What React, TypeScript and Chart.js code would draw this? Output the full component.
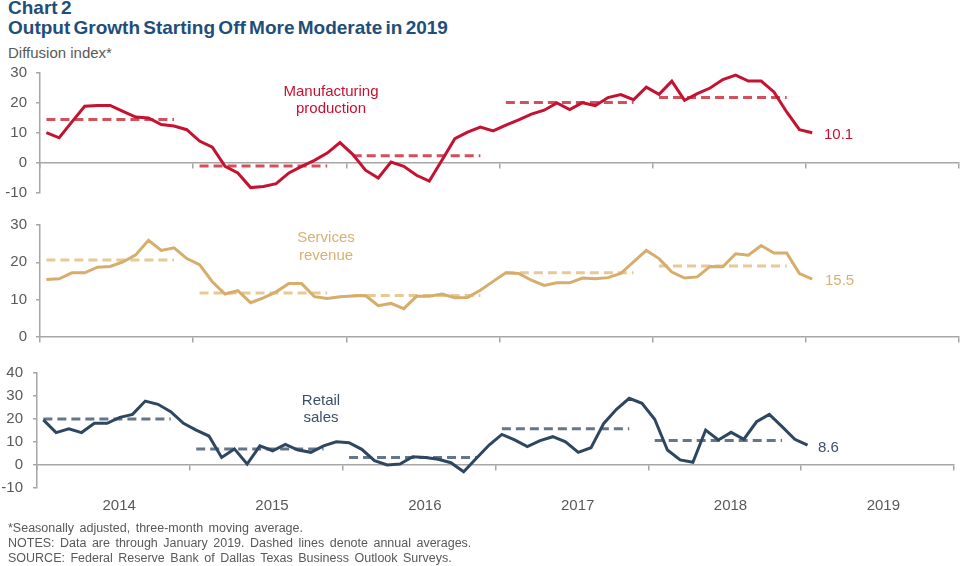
import React, { useEffect, useRef } from "react";
import { Chart, registerables } from "chart.js";

Chart.register(...registerables);

// ---- Data (monthly, Jan 2014 – Jan 2019) ----
const years = ["2014", "2015", "2016", "2017", "2018", "2019"];

const manufacturing = [
  10.1, 8.4, 13.7, 18.9, 19.2, 19.2, 17.2, 15.3, 15.0, 12.8, 12.3, 11.1,
  7.3, 5.3, -1.1, -3.3, -8.2, -7.8, -6.9, -3.3, -1.1, 0.9, 3.3, 6.8,
  2.9, -2.4, -5.0, 0.3, -1.1, -4.1, -6.0, 1.0, 8.1, 10.3, 12.0, 10.7,
  12.6, 14.4, 16.3, 17.6, 20.0, 17.8, 20.1, 19.1, 21.8, 22.8, 21.1, 25.3,
  22.9, 27.3, 20.9, 23.1, 25.0, 27.8, 29.3, 27.3, 27.3, 23.7, 17.0, 11.1,
  10.1,
];
const manufacturingAvg = [14.5, -1.0, 2.4, 20.2, 21.8];

const services = [
  15.4, 15.6, 17.2, 17.2, 18.7, 18.9, 20.1, 22.0, 25.9, 23.2, 23.9, 21.0,
  19.4, 14.8, 11.5, 12.4, 9.2, 10.5, 12.1, 14.3, 14.3, 10.8, 10.3, 10.8,
  11.0, 11.1, 8.4, 9.0, 7.6, 10.9, 10.9, 11.5, 10.5, 10.6, 12.5, 14.9,
  17.2, 17.0, 15.2, 13.8, 14.5, 14.5, 15.8, 15.6, 15.9, 17.0, 20.1, 23.2,
  21.0, 17.4, 15.8, 16.1, 18.9, 18.8, 22.3, 21.9, 24.5, 22.5, 22.5, 17.0,
  15.5,
];
const servicesAvg = [20.6, 11.8, 11.1, 17.2, 19.0];

const retail = [
  19.6, 14.1, 15.7, 14.1, 18.1, 18.1, 20.7, 22.0, 27.8, 26.4, 23.2, 18.1,
  15.2, 12.6, 3.3, 7.0, 0.4, 8.3, 6.2, 9.0, 6.5, 5.5, 8.3, 10.1,
  9.7, 6.8, 1.9, 0.0, 0.4, 3.6, 3.3, 2.5, 1.0, -2.9, 2.9, 8.7,
  13.3, 10.9, 8.0, 10.6, 12.3, 10.1, 5.5, 7.5, 18.1, 24.2, 29.0, 26.8,
  19.9, 6.5, 2.2, 1.2, 15.2, 10.9, 14.2, 11.2, 18.8, 22.0, 16.7, 11.2,
  8.6,
];
const retailAvg = [20.0, 7.0, 3.3, 15.8, 10.7];

const FONT = "'Liberation Sans', Arial, sans-serif";
const AXIS = "#a6a6a6";
const TEXT = "#595959";

type Area = { top: number; bottom: number; left: number; right: number };

type PanelProps = {
  top: number;
  height: number;
  values: number[];
  averages: number[];
  min: number;
  max: number;
  color: string;
  dashColor: string;
  yWidth: number;
  area: Area; // desired plot area in canvas coordinates
  showYears?: boolean;
  yPad: number;
};

function Panel(p: PanelProps) {
  const ref = useRef<HTMLCanvasElement | null>(null);
  useEffect(() => {
    if (!ref.current) return;
    const solid = p.values.map((v, i) => ({ x: i + 0.5, y: v }));
    const avgSets = p.averages.map((a, k) => ({
      data: [
        { x: k * 12 + 0.5, y: a },
        { x: k * 12 + 10.5, y: a },
      ],
      xAxisID: "x",
      yAxisID: "y",
      borderColor: p.dashColor,
      borderWidth: 3,
      borderDash: [9, 5],
      pointRadius: 0,
      tension: 0,
      order: 2,
    }));
    const boundaries = years.map((_, k) => k * 12).concat([72]);
    const scales: any = {
      x: {
        type: "linear",
        min: 0,
        max: 72,
        position: { y: 0 },
        afterBuildTicks: (s: any) => {
          s.ticks = boundaries.map((v) => ({ value: v }));
        },
        afterFit: (s: any) => {
          s.paddingLeft = 0;
          s.paddingRight = 0;
          s.paddingTop = 0;
          s.paddingBottom = 0;
        },
        ticks: { display: false },
        grid: { drawOnChartArea: false, drawTicks: true, tickLength: 5, color: AXIS, lineWidth: 1.5 },
        border: { color: AXIS, width: 1.5 },
      },
      y: {
        type: "linear",
        position: "left",
        min: p.min,
        max: p.max,
        afterFit: (s: any) => {
          s.width = p.yWidth;
          s.paddingTop = 0;
          s.paddingBottom = 0;
          s.paddingLeft = 0;
          s.paddingRight = 0;
        },
        ticks: { stepSize: 10, color: TEXT, font: { family: FONT, size: 15 }, padding: p.yPad },
        grid: { drawOnChartArea: false, drawTicks: true, tickLength: 4, color: AXIS, lineWidth: 1.5 },
        border: { color: AXIS, width: 1.5 },
      },
    };
    if (p.showYears) {
      scales.xl = {
        type: "linear",
        min: 0,
        max: 72,
        position: "bottom",
        afterBuildTicks: (s: any) => {
          s.ticks = years.map((_, k) => ({ value: k * 12 + 6.45 }));
        },
        afterFit: (s: any) => {
          s.height = 32;
          s.paddingLeft = 0;
          s.paddingRight = 0;
          s.paddingTop = 0;
          s.paddingBottom = 0;
        },
        ticks: {
          color: TEXT,
          font: { family: FONT, size: 15 },
          padding: 9,
          autoSkip: false,
          maxRotation: 0,
          callback: (_v: any, idx: number) => years[idx],
        },
        grid: { display: false, drawTicks: false },
        border: { display: false },
      };
    }
    const pad = { top: p.area.top, bottom: p.height - p.area.bottom - (p.showYears ? 32 : 0), left: 0, right: 960 - p.area.right };
    const opts: any = {
      animation: false,
      responsive: false,
      maintainAspectRatio: false,
      events: [],
      layout: { padding: { ...pad }, autoPadding: false },
      plugins: { legend: { display: false }, tooltip: { enabled: false }, title: { display: false } },
      scales,
    };
    const chart = new Chart(ref.current, {
      type: "line",
      data: {
        datasets: [
          {
            data: solid,
            xAxisID: "x",
            yAxisID: "y",
            borderColor: p.color,
            borderWidth: 3,
            pointRadius: 0,
            tension: 0,
            order: 1,
          } as any,
          ...(avgSets as any[]),
        ],
      },
      options: opts,
    });
    return () => chart.destroy();
  }, []);
  return (
    <canvas
      ref={ref}
      width={960}
      height={p.height}
      style={{ position: "absolute", left: 0, top: p.top, width: 960, height: p.height }}
    />
  );
}

const abs = (o: React.CSSProperties): React.CSSProperties => ({ position: "absolute", ...o });

export default function App() {
  return (
    <div style={abs({ left: 0, top: 0, width: 960, height: 566, background: "#ffffff", overflow: "hidden", fontFamily: FONT })}>
      <div style={abs({ left: 8, top: -2, fontSize: 19, lineHeight: "20px", fontWeight: 700, color: "#1f4e7a", wordSpacing: -2, whiteSpace: "nowrap" })}>
        <div>Chart 2</div>
        <div>Output Growth Starting Off More Moderate in 2019</div>
      </div>
      <div style={abs({ left: 8, top: 44, fontSize: 15, lineHeight: "18px", color: TEXT })}>Diffusion index*</div>

      <Panel
        top={60}
        height={145}
        values={manufacturing}
        averages={manufacturingAvg}
        min={-10}
        max={30}
        color="#c41230"
        dashColor="#d2505c"
        yWidth={40}
        yPad={9}
        area={{ top: 13, bottom: 133, left: 40, right: 959 }}
      />
      <Panel
        top={212}
        height={135}
        values={services}
        averages={servicesAvg}
        min={0}
        max={30}
        color="#d6ad6a"
        dashColor="#e6c995"
        yWidth={40}
        yPad={9}
        area={{ top: 13, bottom: 125, left: 40, right: 959 }}
      />
      <Panel
        top={360}
        height={165}
        values={retail}
        averages={retailAvg}
        min={-10}
        max={40}
        color="#2e4760"
        dashColor="#64778a"
        yWidth={37}
        yPad={10}
        showYears
        area={{ top: 13, bottom: 128, left: 37, right: 954 }}
      />

      <div style={abs({ left: 231, top: 83, width: 200, textAlign: "center", fontSize: 15, lineHeight: "16.5px", color: "#c8102e" })}>
        Manufacturing
        <br />
        production
      </div>
      <div style={abs({ left: 226, top: 228, width: 200, textAlign: "center", fontSize: 15, lineHeight: "17.5px", color: "#d8b172" })}>
        Services
        <br />
        revenue
      </div>
      <div style={abs({ left: 221, top: 392, width: 200, textAlign: "center", fontSize: 15, lineHeight: "16.7px", color: "#3b5068" })}>
        Retail
        <br />
        sales
      </div>

      <div style={abs({ left: 824, top: 125, fontSize: 15, lineHeight: "18px", color: "#c8102e" })}>10.1</div>
      <div style={abs({ left: 825, top: 271, fontSize: 15, lineHeight: "18px", color: "#d8b172" })}>15.5</div>
      <div style={abs({ left: 818, top: 438, fontSize: 15, lineHeight: "18px", color: "#3b5068" })}>8.6</div>

      <div style={abs({ left: 8, top: 521, fontSize: 12.5, lineHeight: "15.2px", color: TEXT, wordSpacing: 2, whiteSpace: "nowrap" })}>
        <div>*Seasonally adjusted, three-month moving average.</div>
        <div>NOTES: Data are through January 2019. Dashed lines denote annual averages.</div>
        <div>SOURCE: Federal Reserve Bank of Dallas Texas Business Outlook Surveys.</div>
      </div>
    </div>
  );
}
